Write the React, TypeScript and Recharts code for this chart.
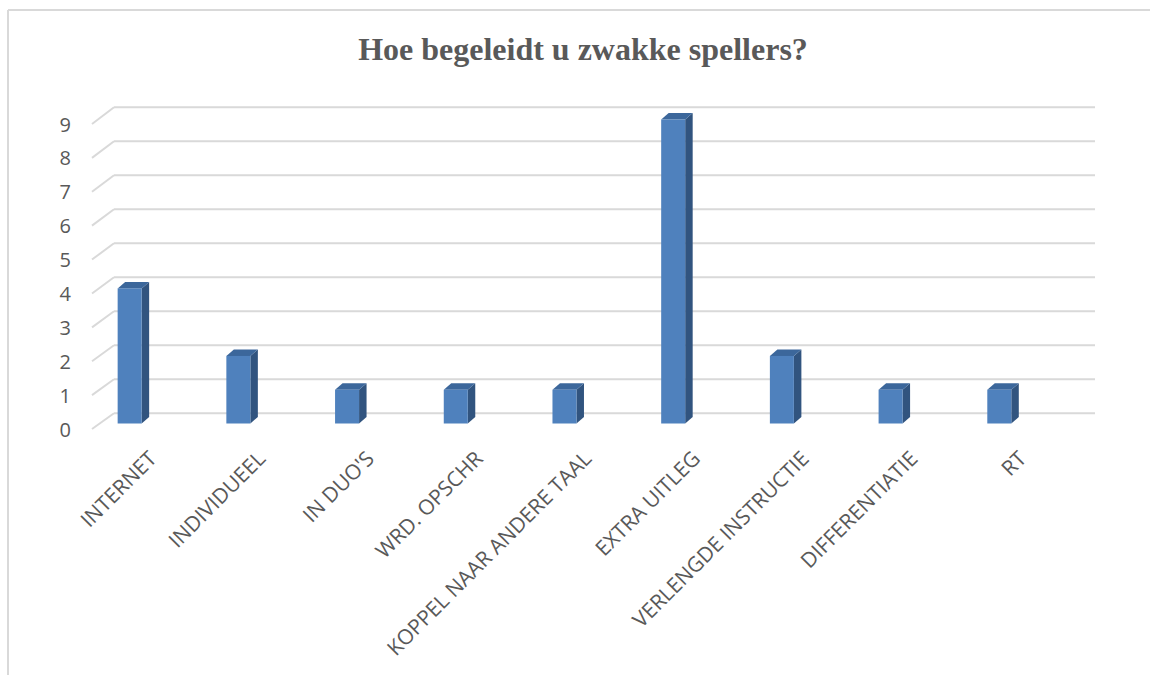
import React from 'react';
import { BarChart, Bar, XAxis, YAxis } from 'recharts';

const categories = ['INTERNET', 'INDIVIDUEEL', "IN DUO'S", 'WRD. OPSCHR', 'KOPPEL NAAR ANDERE TAAL', 'EXTRA UITLEG', 'VERLENGDE INSTRUCTIE', 'DIFFERENTIATIE', 'RT'];
const values = [4, 2, 1, 1, 1, 9, 2, 1, 1];
const yTicks = [0, 1, 2, 3, 4, 5, 6, 7, 8, 9];
const title = 'Hoe begeleidt u zwakke spellers?';

const data = categories.map((c, i) => ({ name: c, value: values[i] }));

const GRID = '#d9d9d9';
const TEXT = '#595959';
const FONT = '"Open Sans", sans-serif';
const MARGIN = { top: 119.5, right: 96, bottom: 241.5, left: 35.65 };

const GridTick = (props: any) => {
  const { y, payload } = props;
  const v = payload.value;
  const frontY = y + 5.5 - v * 0.11;
  const backY = y - 10.2 - v * 0.22;
  return (
    <g>
      <line x1={92} y1={frontY} x2={114} y2={backY} stroke={GRID} strokeWidth={2} />
      <line x1={114} y1={backY} x2={1095} y2={backY} stroke={GRID} strokeWidth={2} />
    </g>
  );
};

const LabelTick = (props: any) => {
  const { y, payload } = props;
  const v = payload.value;
  const frontY = y + 5.5 - v * 0.11;
  return (
    <text x={71} y={frontY} textAnchor="end" dominantBaseline="central" fontSize={20} fontFamily={FONT} fill={TEXT}>{v}</text>
  );
};

const XTick = (props: any) => {
  const { x, payload } = props;
  return (
    <text transform={`translate(${x + 28},${460}) rotate(-45)`} textAnchor="end" fontSize={21} fontFamily={FONT} fill={TEXT}>
      {payload.value}
    </text>
  );
};

const Bar3D = (props: any) => {
  const { x, y, width, height } = props;
  if (!height || height <= 0) return null;
  const dx = 7.5;
  const dy = -6.5;
  return (
    <g>
      <polygon points={`${x + width},${y} ${x + width + dx},${y + dy} ${x + width + dx},${y + height + dy} ${x + width},${y + height}`} fill="#31547f" />
      <polygon points={`${x},${y} ${x + dx},${y + dy} ${x + width + dx},${y + dy} ${x + width},${y}`} fill="#3c679b" />
      <rect x={x} y={y} width={width} height={height} fill="#4f81bd" />
    </g>
  );
};

const NoShape = () => <g />;

export default function App() {
  return (
    <div style={{ position: 'absolute', left: 0, top: 0, width: 1150, height: 675, background: '#fff', overflow: 'hidden' }}>
      <svg width={1150} height={675} style={{ position: 'absolute', left: 0, top: 0 }}>
        <line x1={8} y1={10} x2={1150} y2={10} stroke={GRID} strokeWidth={2} />
        <line x1={8} y1={10} x2={8} y2={675} stroke={GRID} strokeWidth={2} />
        <text x={583} y={60} textAnchor="middle" fontFamily='"Liberation Serif", "Times New Roman", serif' fontWeight="bold" fontSize={32} fill={TEXT}>{title}</text>
      </svg>
      <div style={{ position: 'absolute', left: 0, top: 0 }}>
        <BarChart width={1150} height={675} data={data} margin={MARGIN}>
          <YAxis width={40} domain={[0, 9]} ticks={yTicks} interval={0} axisLine={false} tickLine={false} tick={<GridTick />} />
          <XAxis dataKey="name" axisLine={false} tickLine={false} interval={0} tick={false} height={10} />
          <Bar dataKey="value" barSize={24} shape={<NoShape />} isAnimationActive={false} />
        </BarChart>
      </div>
      <div style={{ position: 'absolute', left: 0, top: 0 }}>
        <BarChart width={1150} height={675} data={data} margin={MARGIN}>
          <YAxis width={40} domain={[0, 9]} ticks={yTicks} interval={0} axisLine={false} tickLine={false} tick={<LabelTick />} />
          <XAxis dataKey="name" axisLine={false} tickLine={false} interval={0} tick={<XTick />} height={10} />
          <Bar dataKey="value" barSize={24} shape={<Bar3D />} isAnimationActive={false} />
        </BarChart>
      </div>
    </div>
  );
}
